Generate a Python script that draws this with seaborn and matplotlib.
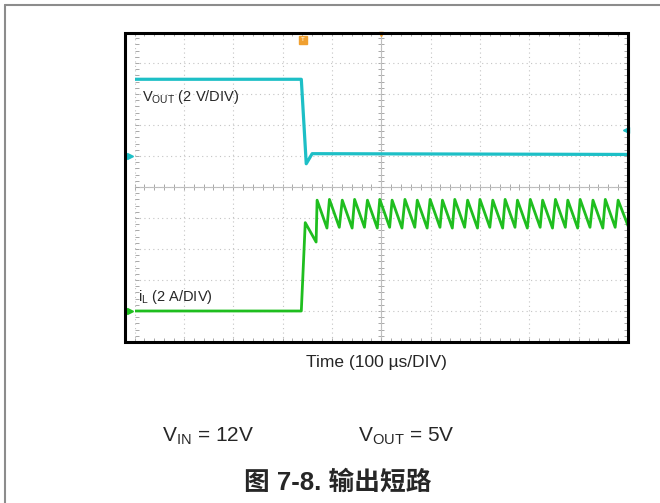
import numpy as np
import pandas as pd
import matplotlib
matplotlib.use('Agg')
import matplotlib.pyplot as plt
import seaborn as sns
from matplotlib.patches import Rectangle
from matplotlib.lines import Line2D
from matplotlib.ticker import MultipleLocator, NullFormatter

sns.set_theme(style='white')
plt.rcParams['font.family'] = ['Liberation Sans', 'Noto Sans CJK SC', 'DejaVu Sans']
plt.rcParams['mathtext.fontset'] = 'custom'
plt.rcParams['mathtext.rm'] = 'Liberation Sans'
plt.rcParams['mathtext.it'] = 'Liberation Sans:italic'
plt.rcParams['mathtext.bf'] = 'Liberation Sans:bold'

# scope capture, time in us (100 us/DIV)
vout_t = [0, 338, 348, 360, 1000]
vout_v = [4.95, 4.95, -0.5, 0.15, 0.1]          # volts, 2 V/DIV

il_t_start = [0, 338, 346, 368]
il_a_start = [0.0, 0.0, 5.7, 4.45]               # amps, 2 A/DIV
il_peak_t = [370, 395, 421, 446, 472, 497, 522, 548, 573, 599, 624, 649, 675,
             700, 726, 751, 776, 802, 827, 853, 878, 903, 929, 954, 980]
il_peak_a = [7.15, 7.2, 7.15, 7.2, 7.15, 7.2, 7.15, 7.2, 7.15, 7.2, 7.15, 7.2, 7.15,
             7.2, 7.15, 7.2, 7.15, 7.2, 7.15, 7.2, 7.15, 7.2, 7.15, 7.2, 7.15]
il_trough_t = [390, 415, 441, 466, 492, 517, 542, 568, 593, 619, 644, 669, 695,
               720, 746, 771, 796, 822, 847, 873, 898, 923, 949, 974, 1000]
il_trough_a = [5.35, 5.4, 5.35, 5.4, 5.35, 5.4, 5.35, 5.4, 5.35, 5.4, 5.35, 5.4, 5.35,
               5.4, 5.35, 5.4, 5.35, 5.4, 5.35, 5.4, 5.35, 5.4, 5.35, 5.4, 5.5]

# channel ground positions on the graticule (divisions from centre)
vout_gnd, vout_scale = 1.0, 2.0
il_gnd, il_scale = -4.0, 2.0

vout = pd.DataFrame({'t': vout_t, 'div': [v / vout_scale + vout_gnd for v in vout_v]})
il_t = il_t_start + [t for pair in zip(il_peak_t, il_trough_t) for t in pair]
il_a = il_a_start + [a for pair in zip(il_peak_a, il_trough_a) for a in pair]
il = pd.DataFrame({'t': il_t, 'div': [a / il_scale + il_gnd for a in il_a]})

W, H = 660, 503
fig = plt.figure(figsize=(W / 100, H / 100), dpi=100)
def fx(x): return x / W
def fy(y): return 1 - y / H

ax = fig.add_axes([fx(134.5), fy(342), (628 - 134.5) / W, 310 / H])
ax.set_xlim(0, 1000)
ax.set_ylim(-5, 5)
for s in ax.spines.values():
    s.set_visible(False)
ax.xaxis.set_major_locator(MultipleLocator(100))
ax.xaxis.set_minor_locator(MultipleLocator(20))
ax.yaxis.set_major_locator(MultipleLocator(1))
ax.yaxis.set_minor_locator(MultipleLocator(0.2))
ax.grid(True, which='major', ls=(0, (1, 3)), color='#C4C4C4', lw=0.8)
ax.tick_params(which='both', direction='in', top=True, right=True, bottom=True, left=True,
               length=3, width=0.7, color='#A8A8A8',
               labelbottom=False, labelleft=False)

# centre cross with ticks
secx = ax.secondary_xaxis(0.5)
secy = ax.secondary_yaxis(0.5)
secx.xaxis.set_major_locator(MultipleLocator(100))
secx.xaxis.set_minor_locator(MultipleLocator(20))
secx.xaxis.set_major_formatter(NullFormatter())
secy.yaxis.set_major_locator(MultipleLocator(1))
secy.yaxis.set_minor_locator(MultipleLocator(0.2))
secy.yaxis.set_major_formatter(NullFormatter())
for sec in (secx, secy):
    for s in sec.spines.values():
        s.set_color('#BDBDBD')
        s.set_linewidth(0.8)
    sec.tick_params(which='both', direction='inout', length=5, width=0.7, color='#A8A8A8')

cyan = '#1DBFC6'
green = '#1FBE1F'
sns.lineplot(data=vout, x='t', y='div', sort=False, estimator=None, color=cyan, lw=2.3, ax=ax, zorder=5)
sns.lineplot(data=il, x='t', y='div', sort=False, estimator=None, color=green, lw=2.0, ax=ax, zorder=5)
ax.set_xlabel('')
ax.set_ylabel('')

# channel / trigger markers
bl = ax.get_yaxis_transform()
ax.plot([-0.01], [vout_gnd], marker='>', ms=5, color=cyan, transform=bl, clip_on=False, zorder=6)
ax.plot([-0.01], [il_gnd], marker='>', ms=5, color=green, transform=bl, clip_on=False, zorder=6)
ax.plot([0.995], [1.85], marker='<', ms=4, color=cyan, transform=bl, clip_on=False, zorder=6)
tr = ax.get_xaxis_transform()
ax.plot([342], [0.975], marker='s', ms=6, color='#F0A030', transform=tr, clip_on=False, zorder=6)
ax.text(342, 0.975, 'T', color='white', fontsize=4.5, ha='center', va='center', transform=tr, zorder=7)
ax.plot([500], [0.995], marker='v', ms=3, color='#F0A030', transform=tr, clip_on=False, zorder=6)

# scope frame
fig.add_artist(Rectangle((fx(125), fy(342)), 503 / W, 309 / H, transform=fig.transFigure,
                         fill=False, ec='black', lw=2.2, zorder=10))
# page border
fig.add_artist(Line2D([fx(5), fx(5)], [0, fy(5)], color='#8C8C8C', lw=1.5, transform=fig.transFigure))
fig.add_artist(Line2D([fx(5), 1], [fy(5), fy(5)], color='#8C8C8C', lw=1.5, transform=fig.transFigure))

fig.text(fx(142), fy(101), r'V$_{\mathrm{OUT}}$ (2 V/DIV)', fontsize=10.5, ha='left', va='baseline')
fig.text(fx(138), fy(301), r'i$_{\mathrm{L}}$ (2 A/DIV)', fontsize=10.5, ha='left', va='baseline')
fig.text(fx(376), fy(367), 'Time (100 µs/DIV)', fontsize=12.5, ha='center', va='baseline')
fig.text(fx(162), fy(442), r'V$_{\mathrm{IN}}$ = 12V', fontsize=15, ha='left', va='baseline')
fig.text(fx(358), fy(442), r'V$_{\mathrm{OUT}}$ = 5V', fontsize=15, ha='left', va='baseline')
fig.text(fx(338), fy(490), '图 7-8. 输出短路', fontsize=18.5, fontweight='bold', ha='center', va='baseline')

fig.savefig('out.png', dpi=100)
